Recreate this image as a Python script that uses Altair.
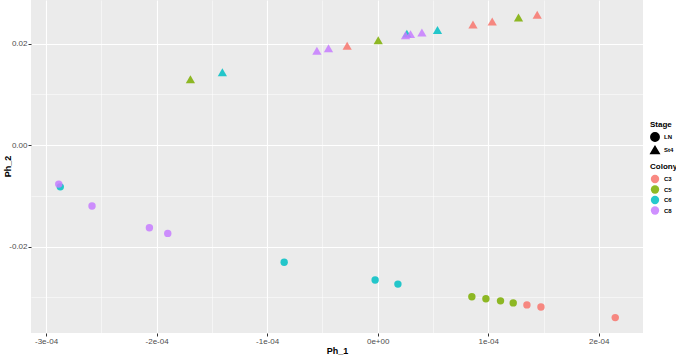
import altair as alt
import pandas as pd

# Ph_1 / Ph_2 coordinates for each sample, with colony and stage
ph1 = [
    -2.885e-4, -2.871e-4, -2.584e-4, -2.065e-4, -1.899e-4,
    -0.846e-4, -0.023e-4, 0.183e-4,
    0.852e-4, 0.979e-4, 1.111e-4, 1.226e-4,
    1.350e-4, 1.477e-4, 2.149e-4,
    -1.694e-4, -1.405e-4, -0.550e-4, -0.445e-4, -0.276e-4,
    0.005e-4, 0.252e-4, 0.264e-4, 0.297e-4, 0.400e-4,
    0.541e-4, 0.862e-4, 1.036e-4, 1.274e-4, 1.443e-4,
]
ph2 = [
    -0.00768, -0.00822, -0.0120, -0.0163, -0.0174,
    -0.0231, -0.0266, -0.0274,
    -0.0299, -0.0303, -0.0307, -0.0311,
    -0.0315, -0.0319, -0.0340,
    0.0130, 0.0144, 0.0186, 0.0191, 0.0196,
    0.0207, 0.0217, 0.0220, 0.0219, 0.0222,
    0.0227, 0.0238, 0.0244, 0.0252, 0.0257,
]
colony = [
    "C8", "C6", "C8", "C8", "C8",
    "C6", "C6", "C6",
    "C5", "C5", "C5", "C5",
    "C3", "C3", "C3",
    "C5", "C6", "C8", "C8", "C3",
    "C5", "C8", "C6", "C8", "C8",
    "C6", "C3", "C3", "C5", "C3",
]
stage = ["LN"] * 15 + ["St4"] * 15

colony_levels = ["C3", "C5", "C6", "C8"]
colony_colors = ["#F8766D", "#7CAE00", "#00BFC4", "#C77CFF"]
stage_levels = ["LN", "St4"]
stage_shapes = ["circle", "triangle-up"]

x_ticks = [-3e-4, -2.5e-4, -2e-4, -1.5e-4, -1e-4, -0.5e-4, 0.0, 0.5e-4, 1e-4, 1.5e-4, 2e-4]
y_ticks = [-0.03, -0.02, -0.01, 0.0, 0.01, 0.02]

df = pd.DataFrame({
    "Ph_1": ph1,
    "Ph_2": ph2,
    "Colony": colony,
    "Stage": stage,
    "order": [colony_levels.index(c) for c in colony],
})

x_minor = "abs(round(datum.value * 1e5)) % 10 == 5"
y_minor = "abs(round(datum.value * 100)) % 2 == 1"

x_fmt = ("replace(replace(format(abs(datum.value), '.0e'), 'e-', 'e-0'), 'e+', 'e+0')")
x_label = f"({x_minor}) ? '' : ((datum.value < 0 ? '-' : '') + {x_fmt})"
y_label = (f"({y_minor}) ? '' : ((datum.value < 0 ? '-' : '') + format(abs(datum.value), '.2f'))")

axis_common = dict(
    gridColor="white",
    tickSize=3,
    tickWidth=1,
    domain=False,
    labelPadding=1,
    labelFontSize=8,
    labelColor="#4D4D4D",
    labelFont="Liberation Sans",
    labelFlush=False,
    labelOverlap=False,
    titleFont="Liberation Sans",
    titleFontSize=9,
    titleFontWeight="bold",
    titleColor="black",
)

x_axis = alt.Axis(
    values=x_ticks,
    labelExpr=x_label,
    title="Ph_1",
    gridWidth=alt.condition(x_minor, alt.value(0.5), alt.value(1.1)),
    tickColor=alt.condition(x_minor, alt.value("transparent"), alt.value("#333333")),
    titlePadding=1,
    **axis_common,
)
y_axis = alt.Axis(
    values=y_ticks,
    labelExpr=y_label,
    title="Ph_2",
    gridWidth=alt.condition(y_minor, alt.value(0.5), alt.value(1.1)),
    tickColor=alt.condition(y_minor, alt.value("transparent"), alt.value("#333333")),
    titleX=-24,
    titleY=166,
    titleAngle=270,
    titleBaseline="middle",
    titleAlign="center",
    **axis_common,
)

legend_common = dict(
    orient="none",
    titleFont="Liberation Sans",
    titleFontSize=8,
    titleFontWeight="bold",
    titleColor="black",
    titlePadding=3,
    labelFont="Liberation Sans",
    labelFontSize=6,
    labelFontWeight="bold",
    labelColor="black",
    labelOffset=4,
    symbolSize=70,
    padding=0,
    legendX=619,
)

points = alt.Chart(df).mark_point(filled=True, opacity=0.85).encode(
    x=alt.X("Ph_1:Q", scale=alt.Scale(domain=[-3.136e-4, 2.40e-4], nice=False, zero=False), axis=x_axis),
    y=alt.Y("Ph_2:Q", scale=alt.Scale(domain=[-0.03704, 0.02863], nice=False, zero=False), axis=y_axis),
    color=alt.Color(
        "Colony:N",
        scale=alt.Scale(domain=colony_levels, range=colony_colors),
        legend=alt.Legend(symbolType="circle", symbolOpacity=0.85, legendY=163, rowPadding=0.5,
                          **legend_common),
    ),
    shape=alt.Shape(
        "Stage:N",
        scale=alt.Scale(domain=stage_levels, range=stage_shapes),
        legend=alt.Legend(symbolFillColor="black", symbolStrokeColor="black", symbolOpacity=1,
                          legendY=121, rowPadding=-3, **legend_common),
    ),
    size=alt.condition("datum.Stage == 'LN'", alt.value(55), alt.value(85)),
    order=alt.Order("order:Q"),
)

chart = points.properties(
    width=612,
    height=333,
    autosize=alt.AutoSizeParams(type="none"),
    padding={"left": 31, "top": 0, "right": 33, "bottom": 22},
    background="white",
).configure_view(
    fill="#EBEBEB",
    stroke=None,
)

chart.save("out.html", embed_options={"renderer": "svg", "actions": False})
